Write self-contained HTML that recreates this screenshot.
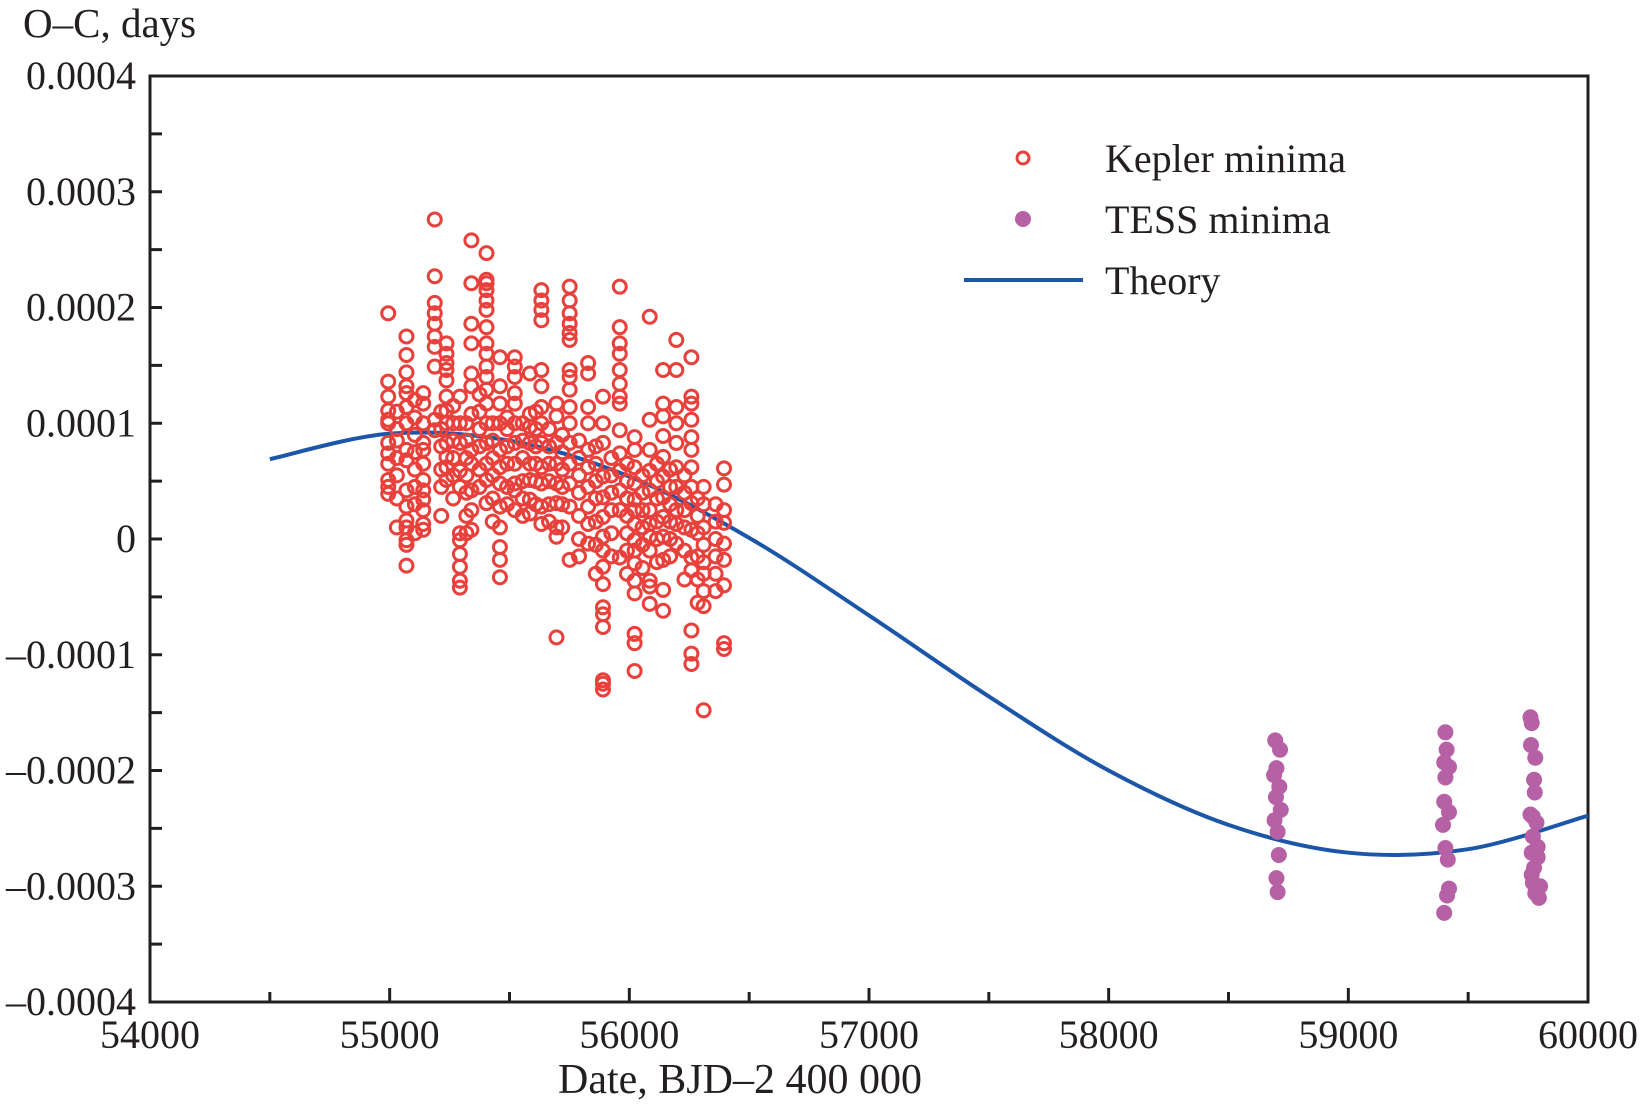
<!DOCTYPE html>
<html><head><meta charset="utf-8"><style>
html,body{margin:0;padding:0;background:#fff}
svg{display:block}
text{font-family:"Liberation Serif",serif;fill:#231f20}
</style></head><body>
<svg id="chart" width="1640" height="1108" viewBox="0 0 1640 1108" xmlns="http://www.w3.org/2000/svg">
<g id="axes"></g>
<g id="theory"></g>
<g id="kepler"></g>
<g id="tess"></g>
<g id="legend"></g>
</svg>
<script>
// values in units of 1e-4 days
const xTicks = [54000,55000,56000,57000,58000,59000,60000];
const yTicks = [4,3,2,1,0,-1,-2,-3,-4];
const yTickLabels = ["0.0004","0.0003","0.0002","0.0001","0","\u20130.0001","\u20130.0002","\u20130.0003","\u20130.0004"];
const theoryDays = [54500,55000,55500,56000,56500,57000,57500,58000,58500,59000,59500,60000];
const theoryVals = [0.69,0.91,0.85,0.54,0.01,-0.66,-1.36,-2.00,-2.47,-2.71,-2.68,-2.39];
const keplerColDays = [54994,55070,55140,55188,55237,55293,55341,55404,55460,55522,55585,55633,55696,55751,55828,55890,55960,56022,56085,56141,56196,56259,56310,56395,
55030,55105,55215,55265,55320,55375,55430,55490,55555,55610,55665,55720,55790,55860,55925,55990,56055,56115,56170,56230,56285,56360];
const keplerColVals = [
[1.95,1.36,1.23,1.11,1.03,1.00,0.83,0.74,0.65,0.51,0.45,0.39],
[1.75,1.59,1.44,1.32,1.26,1.14,1.00,0.77,0.68,0.42,0.28,0.16,0.10,-0.01,-0.05,-0.23],
[1.26,1.17,1.00,0.83,0.77,0.65,0.51,0.42,0.34,0.25,0.13,0.08],
[2.76,2.27,2.04,1.95,1.86,1.75,1.66,1.49,1.03,0.94],
[1.69,1.60,1.52,1.46,1.37,1.23,1.11,1.00,0.83,0.71,0.62,0.51],
[1.23,1.00,0.83,0.59,0.45,0.05,-0.01,-0.13,-0.24,-0.36,-0.42],
[2.58,2.21,1.86,1.69,1.43,1.32,1.08,0.77,0.65,0.42,0.25,0.08],
[2.47,2.24,2.21,2.15,2.06,1.98,1.83,1.69,1.60,1.49,1.40,1.29,1.17,1.00,0.83,0.65,0.51,0.31],
[1.57,1.32,1.17,1.00,0.77,0.62,0.48,0.28,0.10,-0.07,-0.18,-0.33],
[1.57,1.49,1.40,1.26,1.17,1.00,0.83,0.65,0.48,0.42,0.25],
[1.43,1.08,0.97,0.83,0.65,0.51,0.34,0.22],
[2.15,2.06,1.98,1.89,1.46,1.32,1.14,1.00,0.83,0.62,0.48,0.28,0.13],
[1.17,1.06,0.83,0.65,0.48,0.31,0.10,0.02,-0.85],
[2.18,2.06,1.95,1.86,1.78,1.72,1.46,1.40,1.29,1.14,1.00,0.83,0.65,0.48,0.28,-0.18],
[1.52,1.43,1.14,1.00,0.77,0.62,0.45,0.28,0.13,-0.04],
[1.23,1.00,0.83,0.54,0.36,0.19,0.02,-0.10,-0.24,-0.39,-0.59,-0.65,-0.76,-1.22,-1.30,-1.25],
[2.18,1.83,1.69,1.60,1.46,1.34,1.23,1.17,0.94,0.74,0.59,0.42,0.25,-0.16],
[0.88,0.77,0.62,0.48,0.34,0.25,0.13,-0.01,-0.10,-0.21,-0.36,-0.47,-0.82,-0.90,-1.14],
[1.92,1.03,0.77,0.59,0.42,0.25,0.13,0.02,-0.10,-0.36,-0.41,-0.56],
[1.46,1.17,1.06,0.89,0.71,0.54,0.36,0.19,0.02,-0.18,-0.44,-0.62],
[1.72,1.46,1.14,1.00,0.83,0.62,0.45,0.25,0.13,-0.04],
[1.57,1.23,1.17,1.03,0.88,0.77,0.62,0.45,0.31,0.08,-0.16,-0.27,-0.79,-0.99,-1.08],
[0.45,0.30,0.10,-0.05,-0.20,-0.30,-0.45,-0.58,-1.48],
[0.61,0.47,0.25,0.14,-0.04,-0.18,-0.40,-0.90,-0.95],
[1.10,0.95,0.85,0.70,0.55,0.35,0.10],
[1.20,1.05,0.90,0.75,0.60,0.45,0.30,0.05],
[1.10,0.95,0.80,0.60,0.45,0.20],
[1.15,1.00,0.85,0.70,0.55,0.35],
[1.00,0.85,0.70,0.55,0.40,0.20,0.05],
[1.25,1.10,0.95,0.80,0.60,0.45],
[1.00,0.85,0.70,0.55,0.35,0.15],
[1.05,0.95,0.80,0.65,0.45,0.30],
[1.00,0.85,0.70,0.50,0.35,0.20],
[1.10,0.95,0.80,0.65,0.50,0.30],
[0.95,0.80,0.65,0.50,0.30,0.15],
[0.90,0.75,0.60,0.45,0.30,0.10],
[0.85,0.70,0.55,0.40,0.20,0.00,-0.15],
[0.80,0.65,0.50,0.35,0.15,-0.05,-0.30],
[0.70,0.55,0.40,0.25,0.05,-0.15],
[0.65,0.50,0.35,0.20,0.05,-0.10,-0.30],
[0.55,0.40,0.25,0.10,-0.05,-0.25],
[0.65,0.50,0.35,0.15,0.00,-0.20],
[0.60,0.45,0.30,0.15,0.00,-0.15],
[0.55,0.40,0.25,0.10,-0.10,-0.35],
[0.35,0.20,0.05,-0.15,-0.35,-0.55],
[0.30,0.15,0.00,-0.15,-0.30,-0.45]
];
const tessDays = [58695,58715,58700,58690,58712,58698,58718,58692,58705,58710,58700,58705,
59405,59410,59400,59420,59405,59400,59420,59395,59405,59415,59420,59412,59400,
59760,59765,59762,59780,59775,59778,59760,59785,59770,59790,59765,59775,59770,59780,59795,59770,59790,59765,59800];
const tessVals = [-1.74,-1.82,-1.98,-2.04,-2.14,-2.23,-2.34,-2.43,-2.53,-2.73,-2.93,-3.05,
-1.67,-1.82,-1.93,-1.97,-2.06,-2.27,-2.36,-2.47,-2.67,-2.77,-3.02,-3.08,-3.23,
-1.54,-1.59,-1.78,-1.89,-2.08,-2.19,-2.38,-2.45,-2.57,-2.66,-2.71,-2.84,-2.97,-3.06,-3.10,-2.40,-2.75,-2.90,-3.00];

const L=150,R=1588,T=76,B=1002;
const xS=d=>L+(d-54000)/6000*(R-L);
const yS=v=>T+(4-v)/8*(B-T);
const NS="http://www.w3.org/2000/svg";
function mk(tag,attrs,parent){const e=document.createElementNS(NS,tag);for(const k in attrs)e.setAttribute(k,attrs[k]);parent.appendChild(e);return e;}
const axes=document.getElementById('axes');
const frame=mk('rect',{x:L,y:T,width:R-L,height:B-T,fill:'none',stroke:'#231f20','stroke-width':3},axes);


for(let d=54000;d<=60000;d+=500){
  const major=d%1000===0;
  const t=mk('line',{x1:xS(d),x2:xS(d),y1:B,y2:B-(major?14:10),stroke:'#231f20','stroke-width':3},axes);
  
  
}
xTicks.forEach(d=>{
  const t=mk('text',{x:xS(d),y:1048,'font-size':40,'text-anchor':'middle'},axes);t.textContent=d;
  
  
});
for(let v=-4;v<=4;v+=0.5){
  const t=mk('line',{x1:L,x2:L+12,y1:yS(v),y2:yS(v),stroke:'#231f20','stroke-width':3},axes);
  
  
}
yTicks.forEach((v,i)=>{
  const t=mk('text',{x:136,y:yS(v)+13,'font-size':40,'text-anchor':'end'},axes);t.textContent=yTickLabels[i];
  
  
});
const yt=mk('text',{x:23,y:37,'font-size':41},axes);yt.textContent='O\u2013C, days';


const xt=mk('text',{x:740,y:1093,'font-size':42,'text-anchor':'middle'},axes);xt.textContent='Date, BJD\u20132 400 000';



const pts=theoryDays.map((d,i)=>[xS(d),yS(theoryVals[i])]);
let p=`M${pts[0][0]},${pts[0][1]}`;
for(let i=0;i<pts.length-1;i++){
  const p0=pts[i-1]||pts[i],p1=pts[i],p2=pts[i+1],p3=pts[i+2]||p2;
  p+=` C${p1[0]+(p2[0]-p0[0])/6},${p1[1]+(p2[1]-p0[1])/6} ${p2[0]-(p3[0]-p1[0])/6},${p2[1]-(p3[1]-p1[1])/6} ${p2[0]},${p2[1]}`;
}
const th=mk('path',{d:p,fill:'none',stroke:'#1c56a8','stroke-width':4},document.getElementById('theory'));



const kg=document.getElementById('kepler');
keplerColDays.forEach((d,i)=>{
  keplerColVals[i].forEach(v=>{
    const c=mk('circle',{cx:xS(d),cy:yS(v),r:6.5,fill:'none',stroke:'#e8413c','stroke-width':3},kg);
    
    
  });
});
const tg=document.getElementById('tess');
tessDays.forEach((d,i)=>{
  const c=mk('circle',{cx:xS(d),cy:yS(tessVals[i]),r:8,fill:'#b660a6'},tg);
  
  
});

const lg=document.getElementById('legend');
const l1=mk('circle',{cx:1023,cy:158,r:6,fill:'none',stroke:'#e8413c','stroke-width':3},lg);


const t1=mk('text',{x:1105,y:172,'font-size':40},lg);t1.textContent='Kepler minima';


const l2=mk('circle',{cx:1023,cy:219,r:8,fill:'#b660a6'},lg);


const t2=mk('text',{x:1105,y:233,'font-size':40},lg);t2.textContent='TESS minima';


const l3=mk('line',{x1:964,x2:1083,y1:280,y2:280,stroke:'#1c56a8','stroke-width':4},lg);


const t3=mk('text',{x:1105,y:294,'font-size':40},lg);t3.textContent='Theory';


</script>
</body></html>
